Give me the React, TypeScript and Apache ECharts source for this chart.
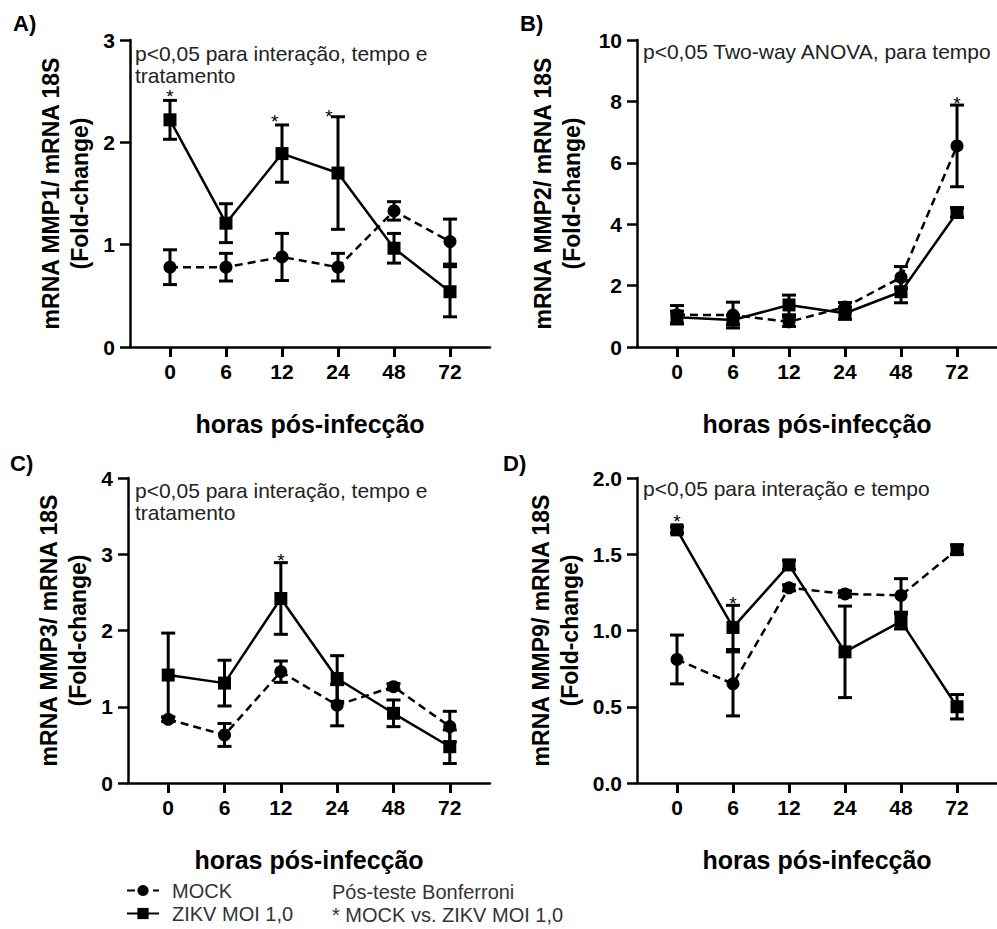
import React, { useEffect, useRef } from 'react';
import * as echarts from 'echarts';

// ---------- data ----------
const hours = ['0', '6', '12', '24', '48', '72'];

const mmp1Mock = [0.78, 0.78, 0.88, 0.78, 1.33, 1.03];
const mmp1MockErr = [0.17, 0.135, 0.23, 0.135, 0.09, 0.22];
const mmp1Zikv = [2.22, 1.21, 1.89, 1.7, 0.965, 0.54];
const mmp1ZikvErr = [0.19, 0.19, 0.28, 0.55, 0.145, 0.245];
const mmp1Stars = [[0, 2.5], [1.87, 2.25], [2.84, 2.3]];

const mmp2Mock = [1.05, 1.04, 0.82, 1.3, 2.27, 6.55];
const mmp2MockErr = [0.3, 0.42, 0.15, 0.15, 0.35, 1.33];
const mmp2Zikv = [0.97, 0.88, 1.37, 1.1, 1.8, 4.38];
const mmp2ZikvErr = [0.2, 0.15, 0.32, 0.2, 0.36, 0.15];
const mmp2Stars = [[5, 8.1]];

const mmp3Mock = [0.835, 0.63, 1.46, 1.02, 1.263, 0.74];
const mmp3MockErr = [0.03, 0.15, 0.14, 0.27, 0.04, 0.2];
const mmp3Zikv = [1.416, 1.31, 2.42, 1.37, 0.914, 0.476];
const mmp3ZikvErr = [0.55, 0.3, 0.47, 0.3, 0.175, 0.22];
const mmp3Stars = [[2, 2.99]];

const mmp9Mock = [0.81, 0.65, 1.28, 1.24, 1.23, 1.53];
const mmp9MockErr = [0.16, 0.21, 0.02, 0.02, 0.11, 0.03];
const mmp9Zikv = [1.66, 1.02, 1.43, 0.86, 1.06, 0.5];
const mmp9ZikvErr = [0.02, 0.145, 0.03, 0.3, 0.05, 0.08];
const mmp9Stars = [[0, 1.75], [1, 1.21]];

const yTitles = [
  'mRNA MMP1/ mRNA 18S\n(Fold-change)',
  'mRNA MMP2/ mRNA 18S\n(Fold-change)',
  'mRNA MMP3/ mRNA 18S\n(Fold-change)',
  'mRNA MMP9/ mRNA 18S\n(Fold-change)',
];
const notes = [
  'p<0,05 para interação, tempo e\ntratamento',
  'p<0,05 Two-way ANOVA, para tempo',
  'p<0,05 para interação, tempo e\ntratamento',
  'p<0,05 para interação e tempo',
];
const xTitle = 'horas pós-infecção';
const mockName = 'MOCK';
const zikvName = 'ZIKV MOI 1,0';
const footnote = 'Pós-teste Bonferroni\n* MOCK vs. ZIKV MOI 1,0';

// ---------- layout ----------
const FONT = '"Liberation Sans", Arial, sans-serif';

const panels = [
  { letter: 'A)', grid: { left: 130, top: 40, width: 360, height: 307 }, max: 3, interval: 1, dec: 0, nameGap: 36,
    mock: mmp1Mock, mockErr: mmp1MockErr, zikv: mmp1Zikv, zikvErr: mmp1ZikvErr, stars: mmp1Stars, squareMock: [] as number[],
    letterPos: [13, 12], notePos: [135, 42] },
  { letter: 'B)', grid: { left: 637, top: 40, width: 360, height: 307 }, max: 10, interval: 2, dec: 0, nameGap: 51,
    mock: mmp2Mock, mockErr: mmp2MockErr, zikv: mmp2Zikv, zikvErr: mmp2ZikvErr, stars: mmp2Stars, squareMock: [] as number[],
    letterPos: [520, 12], notePos: [643, 40] },
  { letter: 'C)', grid: { left: 128, top: 478, width: 362, height: 305 }, max: 4, interval: 1, dec: 0, nameGap: 36,
    mock: mmp3Mock, mockErr: mmp3MockErr, zikv: mmp3Zikv, zikvErr: mmp3ZikvErr, stars: mmp3Stars, squareMock: [] as number[],
    letterPos: [10, 452], notePos: [135, 479] },
  { letter: 'D)', grid: { left: 637, top: 478, width: 360, height: 305 }, max: 2, interval: 0.5, dec: 1, nameGap: 53,
    mock: mmp9Mock, mockErr: mmp9MockErr, zikv: mmp9Zikv, zikvErr: mmp9ZikvErr, stars: mmp9Stars, squareMock: [5],
    letterPos: [503, 452], notePos: [643, 477] },
];

const CAP = 14;
const errRender = (params: any, api: any) => {
  const x = api.value(0);
  const y = api.value(1);
  const e = api.value(2);
  const top = api.coord([x, y + e]);
  const bot = api.coord([x, y - e]);
  const style = { stroke: '#000', lineWidth: 3 };
  return {
    type: 'group',
    children: [
      { type: 'line', shape: { x1: top[0], y1: top[1], x2: bot[0], y2: bot[1] }, style },
      { type: 'line', shape: { x1: top[0] - CAP / 2, y1: top[1], x2: top[0] + CAP / 2, y2: top[1] }, style },
      { type: 'line', shape: { x1: bot[0] - CAP / 2, y1: bot[1], x2: bot[0] + CAP / 2, y2: bot[1] }, style },
    ],
  };
};

const starRender = (params: any, api: any) => {
  const p = api.coord([api.value(0), api.value(1)]);
  return {
    type: 'text',
    x: p[0],
    y: p[1] + 5,
    style: { text: '*', fontSize: 19, fontFamily: FONT, fill: '#000', align: 'center', verticalAlign: 'middle' },
  };
};

function buildOption() {
  const grid: any[] = [];
  const xAxis: any[] = [];
  const yAxis: any[] = [];
  const series: any[] = [];
  const graphic: any[] = [];
  const ticks = hours.map((_, i) => i);

  panels.forEach((p, i) => {
    grid.push({ ...p.grid, containLabel: false });
    xAxis.push({
      type: 'value',
      gridIndex: i,
      min: -0.714,
      max: 5.714,
      splitLine: { show: false },
      axisLine: { show: true, onZero: false, lineStyle: { color: '#000', width: 2.5 } },
      axisTick: { show: true, customValues: ticks, length: 10, lineStyle: { color: '#000', width: 3 } },
      axisLabel: {
        customValues: ticks,
        formatter: (v: number) => hours[Math.round(v)],
        fontSize: 21,
        fontWeight: 'bold',
        color: '#000',
        fontFamily: FONT,
        margin: 14,
      },
      name: xTitle,
      nameLocation: 'middle',
      nameGap: 64,
      nameTextStyle: { fontSize: 25, fontWeight: 'bold', color: '#000', fontFamily: FONT },
    });
    yAxis.push({
      type: 'value',
      gridIndex: i,
      min: 0,
      max: p.max,
      interval: p.interval,
      splitLine: { show: false },
      axisLine: { show: true, onZero: false, lineStyle: { color: '#000', width: 2.5 } },
      axisTick: { show: true, length: 10, lineStyle: { color: '#000', width: 2.5 } },
      axisLabel: {
        formatter: (v: number) => v.toFixed(p.dec),
        fontSize: 21,
        fontWeight: 'bold',
        color: '#000',
        fontFamily: FONT,
        margin: 15,
      },
      name: yTitles[i],
      nameLocation: 'middle',
      nameRotate: 90,
      nameGap: p.nameGap,
      nameTextStyle: { fontSize: 23, fontWeight: 'bold', color: '#000', lineHeight: 29, fontFamily: FONT },
    });

    series.push({
      type: 'custom',
      name: 'err-mock-' + i,
      xAxisIndex: i,
      yAxisIndex: i,
      renderItem: errRender,
      encode: { x: 0, y: 1 },
      clip: false,
      data: p.mock.map((v, j) => [j, v, p.mockErr[j]]),
      z: 2,
    });
    series.push({
      type: 'custom',
      name: 'err-zikv-' + i,
      xAxisIndex: i,
      yAxisIndex: i,
      renderItem: errRender,
      encode: { x: 0, y: 1 },
      clip: false,
      data: p.zikv.map((v, j) => [j, v, p.zikvErr[j]]),
      z: 2,
    });
    series.push({
      type: 'line',
      name: mockName,
      xAxisIndex: i,
      yAxisIndex: i,
      symbol: 'circle',
      symbolSize: 13,
      showAllSymbol: true,
      lineStyle: { color: '#000', width: 2.5, type: [8, 5] },
      itemStyle: { color: '#000' },
      data: p.mock.map((v, j) =>
        p.squareMock.includes(j) ? { value: [j, v], symbol: 'rect', symbolSize: 13 } : [j, v]
      ),
      z: 3,
    });
    series.push({
      type: 'line',
      name: zikvName,
      xAxisIndex: i,
      yAxisIndex: i,
      symbol: 'rect',
      symbolSize: 13,
      showAllSymbol: true,
      lineStyle: { color: '#000', width: 2.5 },
      itemStyle: { color: '#000' },
      data: p.zikv.map((v, j) => [j, v]),
      z: 3,
    });
    series.push({
      type: 'custom',
      name: 'stars-' + i,
      xAxisIndex: i,
      yAxisIndex: i,
      renderItem: starRender,
      encode: { x: 0, y: 1 },
      clip: false,
      data: p.stars,
      z: 4,
    });

    graphic.push({
      type: 'text',
      left: p.letterPos[0],
      top: p.letterPos[1],
      style: { text: p.letter, fontSize: 22, fontWeight: 'bold', fill: '#000', fontFamily: FONT },
    });
    graphic.push({
      type: 'text',
      left: p.notePos[0],
      top: p.notePos[1],
      style: { text: notes[i], fontSize: 21, lineHeight: 22, fill: '#222', fontFamily: FONT },
    });
  });

  graphic.push({
    type: 'text',
    left: 332,
    top: 880,
    style: { text: footnote, fontSize: 20, lineHeight: 23, fill: '#333', fontFamily: FONT },
  });

  return {
    animation: false,
    backgroundColor: '#fff',
    textStyle: { fontFamily: FONT },
    grid,
    xAxis,
    yAxis,
    series,
    graphic,
    legend: {
      data: [mockName, zikvName],
      orient: 'vertical',
      left: 126,
      top: 880,
      height: 80,
      padding: 0,
      itemWidth: 32,
      itemHeight: 14,
      itemGap: 2,
      textStyle: { fontSize: 20, lineHeight: 21, color: '#333', fontFamily: FONT, padding: [0, 0, 0, 8] },
      selectedMode: false,
    },
  };
}

export default function App() {
  const ref = useRef<HTMLDivElement>(null);
  useEffect(() => {
    if (!ref.current) return;
    const chart = echarts.init(ref.current, undefined, { renderer: 'svg' });
    chart.setOption(buildOption() as any);
    return () => chart.dispose();
  }, []);
  return (
    <div
      ref={ref}
      style={{ position: 'fixed', left: 0, top: 0, width: 997, height: 929, background: '#fff' }}
    />
  );
}
